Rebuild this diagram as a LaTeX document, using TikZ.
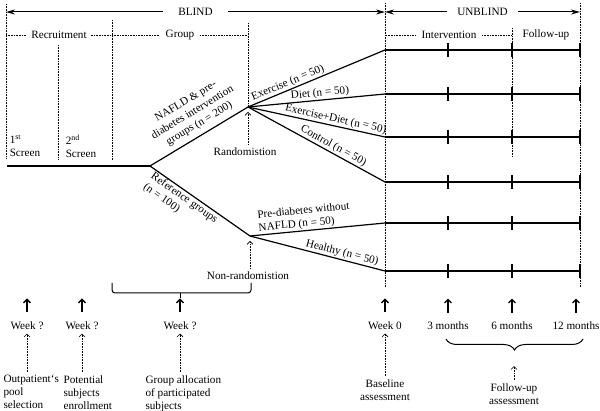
\documentclass[tikz,border=0pt]{standalone}
\usepackage{fontspec}
\setmainfont{Liberation Serif}
\usetikzlibrary{arrows.meta,decorations.pathreplacing}
\begin{document}
\begin{tikzpicture}[x=1pt,y=-1pt,
    font=\fontsize{11.2}{13}\selectfont,
    trial/.style={line width=1.2pt},
    guide/.style={densely dotted, line width=0.6pt},
    uparrow/.style={line width=1.3pt, -{Straight Barb[length=3.5pt,width=7pt]}},
    dotarrow/.style={guide, -{Straight Barb[length=3pt,width=6pt]}},
    span/.style={line width=1pt, {Stealth[length=9pt,width=5pt]}-{Stealth[length=9pt,width=5pt]}},
    lbl/.style={sloped, inner sep=1pt, align=left}]
\useasboundingbox (0,0) rectangle (600,411);

% blind / unblind
\coordinate (bl) at (6,12);
\coordinate (br) at (385,12);
\coordinate (ur) at (580,12);
\draw[span] (bl) -- node[fill=white, inner xsep=15pt] {BLIND} (br);
\draw[span] (br) -- node[fill=white, inner xsep=10pt] {UNBLIND} (ur);

% phases
\draw[guide] (6,35) -- node[fill=white, inner xsep=4pt] {Recruitment} (112,35);
\draw[guide] (112,35) -- node[fill=white, inner xsep=6pt] {Group} (248,35);
\draw[guide] (386,35) -- node[fill=white, inner xsep=6pt] {Intervention} (512,35);
\node (fu) at (546,35) {Follow-up};

% vertical guides
\draw[guide] (6,4) -- (6,158);
\draw[guide] (58,45) -- (58,160);
\draw[guide] (112,20) -- (112,160);
\draw[guide] (385,3) -- (385,287);
\draw[guide] (512,28) -- (512,157);
\draw[guide] (580,3) -- (580,287);

\node[align=left] (scr1) at (25,146) {1\textsuperscript{st}\\Screen};
\node[align=left] (scr2) at (81,146) {2\textsuperscript{nd}\\Screen};

% branches
\coordinate (start) at (7,166);
\coordinate (split) at (150,166);
\coordinate (rand) at (248,107);
\coordinate (nonrand) at (250,236);
\draw[guide] (248,23) -- (rand);

\foreach \y [count=\i] in {50,94,137,182,223,271} {
  \coordinate (s\i) at (385,\y);
  \coordinate (t\i) at (580,\y);
  \draw[trial] (s\i) -- (t\i);
  \foreach \x in {448,512,580}
    \draw[trial] (\x,\y-7) -- (\x,\y+7);
}

\draw[trial] (start) -- (split);
\draw[trial] (split) -- node[lbl, above=4pt, pos=0.56, align=center]
  {NAFLD \& pre-\\diabetes intervention\\groups (n = 200)} (rand);
\draw[trial] (split) -- node[lbl, below, pos=0.38]
  {Reference groups\\(n = 100)} (nonrand);

\draw[trial] (rand) -- node[lbl, above, pos=0.31] {Exercise (n = 50)} (s1);
\draw[trial] (rand) -- node[lbl, above, pos=0.53] {Diet (n = 50)} (s2);
\draw[trial] (rand) -- node[lbl, above, pos=0.63] {Exercise+Diet (n = 50)} (s3);
\draw[trial] (rand) -- node[lbl, above, pos=0.6] {Control (n = 50)} (s4);
\draw[trial] (nonrand) -- node[lbl, above, pos=0.41]
  {Pre-diabetes without\\NAFLD (n = 50)} (s5);
\draw[trial] (nonrand) -- node[lbl, above, pos=0.67] {Healthy (n = 50)} (s6);

\node (randtxt) at (245,152) {Randomistion};
\draw[dotarrow, shorten >=5pt] (randtxt.north -| rand) -- (rand);
\node (nontxt) at (248,276) {Non-randomistion};
\draw[dotarrow, shorten >=5pt] (nontxt.north -| nonrand) -- (nonrand);

% group bracket
\coordinate (gl) at (112,283);
\coordinate (gr) at (251,283);
\coordinate (gm) at (180,293);
\draw[line width=1pt, rounded corners=3pt] (gl) -- (112,293) -- (251,293) -- (gr);
\draw[line width=1pt] (gm) -- (180,298);

% time points
\foreach \x/\t [count=\i] in {27/Week ?, 82/Week ?, 180/Week ?, 385/Week 0,
    448/3 months, 512/6 months, 576/12 months} {
  \node (w\i) at (\x,326) {\t};
  \draw[uparrow] (w\i.north) ++(0,-6) -- ++(0,-14);
}

\node[align=left, anchor=north west] (d1) at (0,372) {Outpatient`s\\pool\\selection};
\node[align=left, anchor=north west] (d2) at (60,372) {Potential\\subjects\\enrollment};
\node[align=left, anchor=north west] (d3) at (142,372) {Group allocation\\of participated\\subjects};
\foreach \i in {1,2,3}
  \draw[dotarrow] (d\i.north -| w\i) -- (w\i.south);

\node[align=center] (base) at (385,390) {Baseline\\assessment};
\draw[dotarrow] (base.north) -- (w4.south);

% follow-up brace
\coordinate (fr) at (583,339);
\coordinate (fl) at (446,339);
\draw[line width=1pt, decorate, decoration={brace, amplitude=11pt}] (fr) -- (fl);
\node[align=center] (fa) at (514,394) {Follow-up\\assessment};
\draw[dotarrow] (fa.north) -- ++(0,-14);
\end{tikzpicture}
\end{document}
